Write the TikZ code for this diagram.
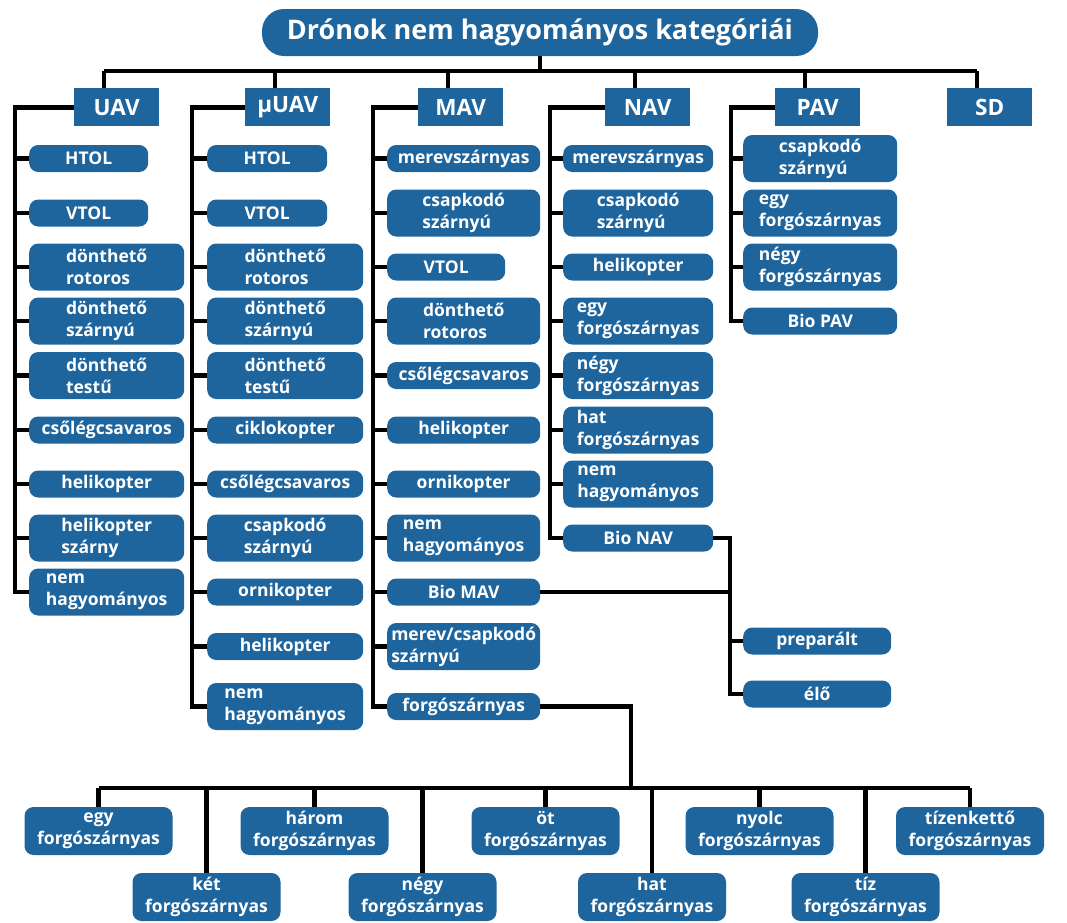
\documentclass[tikz,border=0pt]{standalone}
\usepackage{fontspec}
\setmainfont{Open Sans}
\definecolor{boxblue}{RGB}{30,101,158}
\newcommand{\leaffont}{\fontsize{17.5}{22}\selectfont\bfseries}
\newcommand{\catfont}{\fontsize{22.5}{26}\selectfont\bfseries}
\newcommand{\headfont}{\fontsize{27}{32}\selectfont\bfseries}
\tikzset{
  leaf/.style={fill=boxblue, text=white, font=\leaffont, align=left,
    inner sep=0pt, rounded corners=9pt, minimum height=27pt, anchor=west},
  dbl/.style={minimum height=47pt},
  wU/.style={leaf, minimum width=155pt},
  nU/.style={leaf, minimum width=119pt},
  wM/.style={leaf, minimum width=156pt},
  nM/.style={leaf, minimum width=120pt},
  wA/.style={leaf, minimum width=153pt},
  nA/.style={leaf, minimum width=118pt},
  wN/.style={leaf, minimum width=150pt},
  wP/.style={leaf, minimum width=154pt},
  bot/.style={fill=boxblue, text=white, font=\leaffont, align=center,
    inner sep=0pt, rounded corners=9pt, minimum width=148pt, minimum height=48pt},
  cat/.style={fill=boxblue, text=white, font=\catfont, inner sep=0pt,
    minimum width=85pt, minimum height=38pt, anchor=north west},
  head/.style={fill=boxblue, text=white, font=\headfont, inner sep=0pt,
    rounded corners=22pt, minimum width=556pt, minimum height=47pt},
  wire/.style={line width=4.8pt, black},
}
\begin{document}
\begin{tikzpicture}[x=1pt, y=-1pt]
\useasboundingbox (0,0) rectangle (1067,922);

% title and first level
\node[head] (title) at (540,32.5) {Drónok nem hagyományos kategóriái};
\node[cat] (uav)  at (74,88)  {UAV};
\node[cat] (muav) at (245,88) {µUAV};
\node[cat] (mav)  at (418,88) {MAV};
\node[cat] (nav)  at (605,88) {NAV};
\node[cat] (pav)  at (775,88) {PAV};
\node[cat] (sd)   at (947,88) {SD};

% UAV
\node[nU] (u1) at (29,158.5) {HTOL};
\node[nU] (u2) at (29,213) {VTOL};
\node[wU,dbl] (u3) at (29,267) {dönthető\\rotoros};
\node[wU,dbl] (u4) at (29,321) {dönthető\\szárnyú};
\node[wU,dbl] (u5) at (29,375.5) {dönthető\\testű};
\node[wU] (u6) at (29,430) {csőlégcsavaros};
\node[wU] (u7) at (29,484) {helikopter};
\node[wU,dbl] (u8) at (29,538) {helikopter\\szárny};
\node[wU,dbl] (u9) at (29,592) {nem\\hagyományos};

% microUAV
\node[nM] (m1) at (207,158.5) {HTOL};
\node[nM] (m2) at (207,213) {VTOL};
\node[wM,dbl] (m3) at (207,267) {dönthető\\rotoros};
\node[wM,dbl] (m4) at (207,321) {dönthető\\szárnyú};
\node[wM,dbl] (m5) at (207,375.5) {dönthető\\testű};
\node[wM] (m6) at (207,430) {ciklokopter};
\node[wM] (m7) at (207,484) {csőlégcsavaros};
\node[wM,dbl] (m8) at (207,538) {csapkodó\\szárnyú};
\node[wM] (m9) at (207,592) {ornikopter};
\node[wM] (m10) at (207,646.5) {helikopter};
\node[wM,dbl] (m11) at (207,706.5) {nem\\hagyományos};

% MAV
\node[wA] (a1) at (387,158.5) {merevszárnyas};
\node[wA,dbl] (a2) at (387,213) {csapkodó\\szárnyú};
\node[nA] (a3) at (387,267) {VTOL};
\node[wA,dbl] (a4) at (387,321) {dönthető\\rotoros};
\node[wA] (a5) at (387,375.5) {csőlégcsavaros};
\node[wA] (a6) at (387,430) {helikopter};
\node[wA] (a7) at (387,484) {ornikopter};
\node[wA,dbl] (a8) at (387,538) {nem\\hagyományos};
\node[wA] (a9) at (387,592) {Bio MAV};
\node[wA,dbl] (a10) at (387,646.5) {merev/csapkodó\\szárnyú};
\node[wA] (a11) at (387,706.5) {forgószárnyas};

% NAV
\node[wN] (n1) at (563,158.5) {merevszárnyas};
\node[wN,dbl] (n2) at (563,213) {csapkodó\\szárnyú};
\node[wN] (n3) at (563,267) {helikopter};
\node[wN,dbl] (n4) at (563,321) {egy\\forgószárnyas};
\node[wN,dbl] (n5) at (563,375.5) {négy\\forgószárnyas};
\node[wN,dbl] (n6) at (563,430) {hat\\forgószárnyas};
\node[wN,dbl] (n7) at (563,484) {nem\\hagyományos};
\node[wN] (n8) at (563,538) {Bio NAV};

% PAV
\node[wP,dbl] (p1) at (743,158.5) {csapkodó\\szárnyú};
\node[wP,dbl] (p2) at (743,213) {egy\\forgószárnyas};
\node[wP,dbl] (p3) at (743,267) {négy\\forgószárnyas};
\node[wP] (p4) at (743,321) {Bio PAV};

% biological drones
\node[leaf, minimum width=148pt] (prep) at (743,641) {preparált};
\node[leaf, minimum width=148pt] (elo) at (743,694) {élő};

% rotor-count row
\node[bot] (r1) at (98.5,831) {egy\\forgószárnyas};
\node[bot] (r2) at (206.5,897) {két\\forgószárnyas};
\node[bot] (r3) at (314.5,831) {három\\forgószárnyas};
\node[bot] (r4) at (422.5,897) {négy\\forgószárnyas};
\node[bot] (r5) at (545.5,831) {öt\\forgószárnyas};
\node[bot] (r6) at (652,897) {hat\\forgószárnyas};
\node[bot] (r7) at (759.5,831) {nyolc\\forgószárnyas};
\node[bot] (r8) at (865.5,897) {tíz\\forgószárnyas};
\node[bot] (r9) at (970,831) {tízenkettő\\forgószárnyas};

% helper coordinates: bus levels and rails
\coordinate (bus) at (0,71);
\coordinate (bbus) at (0,788);
\coordinate (hub) at (631,0);
\coordinate (bio) at (730,0);
\coordinate (xU) at (15,0);
\coordinate (xM) at (192,0);
\coordinate (xA) at (373,0);
\coordinate (xN) at (550,0);
\coordinate (xP) at (731,0);
\foreach \c in {uav,muav,mav,nav,pav,sd}
  \coordinate (\c s) at ([xshift=30pt]\c.north west);

% top bus
\draw[wire] (uavs |- bus) -- (sds |- bus);
\draw[wire] (title.south) -- (title.south |- bus);
\foreach \c in {uav,muav,mav,nav,pav,sd}
  \draw[wire] (\c s |- bus) -- (\c s);

% rails with their ticks
\draw[wire] (uav.west) -| (xU |- u9.west) -- (u9.west);
\foreach \n in {u1,u2,u3,u4,u5,u6,u7,u8}
  \draw[wire] (\n.west) -- (\n.west -| xU);
\draw[wire] (muav.west) -| (xM |- m11.west) -- (m11.west);
\foreach \n in {m1,m2,m3,m4,m5,m6,m7,m8,m9,m10}
  \draw[wire] (\n.west) -- (\n.west -| xM);
\draw[wire] (mav.west) -| (xA |- a11.west) -- (a11.west);
\foreach \n in {a1,a2,a3,a4,a5,a6,a7,a8,a9,a10}
  \draw[wire] (\n.west) -- (\n.west -| xA);
\draw[wire] (nav.west) -| (xN |- n8.west) -- (n8.west);
\foreach \n in {n1,n2,n3,n4,n5,n6,n7}
  \draw[wire] (\n.west) -- (\n.west -| xN);
\draw[wire] (pav.west) -| (xP |- p4.west) -- (p4.west);
\foreach \n in {p1,p2,p3}
  \draw[wire] (\n.west) -- (\n.west -| xP);

% Bio MAV / Bio NAV to preparált and élő
\draw[wire] (n8.east) -| (bio |- elo.west) -- (elo.west);
\draw[wire] (a9.east) -- (a9.east -| bio);
\draw[wire] (prep.west) -- (prep.west -| bio);

% forgószárnyas to the rotor-count row
\draw[wire] (a11.east) -| (hub |- bbus);
\draw[wire] (r1.north |- bbus) -- (r9.north |- bbus);
\foreach \n in {r1,r2,r3,r4,r5,r6,r7,r8,r9}
  \draw[wire] (\n.north |- bbus) -- (\n.north);
\end{tikzpicture}
\end{document}
